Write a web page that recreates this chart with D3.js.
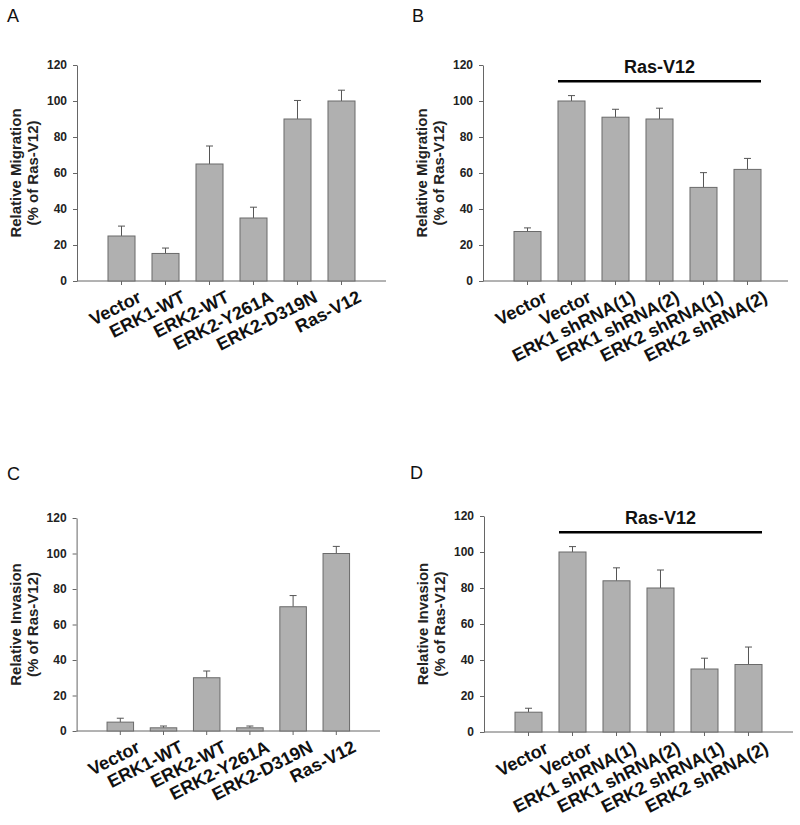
<!DOCTYPE html>
<html><head><meta charset="utf-8">
<script src="https://cdn.jsdelivr.net/npm/d3@7"></script>
<style>body{margin:0;background:#fff}svg{display:block}</style>
</head><body>
<script>
// ---- data ----
const catsAC = ["Vector","ERK1-WT","ERK2-WT","ERK2-Y261A","ERK2-D319N","Ras-V12"];
const catsBD = ["Vector","Vector","ERK1 shRNA(1)","ERK1 shRNA(2)","ERK2 shRNA(1)","ERK2 shRNA(2)"];
const valA = [25, 15.3, 65, 35, 90, 100];
const errA = [5.5, 3, 10, 6, 10.3, 6];
const valB = [27.5, 100, 91, 90, 52, 62];
const errB = [2, 3, 4.4, 6, 8.2, 6.1];
const valC = [5, 1.8, 30, 1.8, 70, 100];
const errC = [2.2, 1, 3.8, 1, 6.3, 4];
const valD = [11, 100, 84, 80, 35, 37.5];
const errD = [2.2, 3, 7.2, 10, 6, 9.7];
const yTicks = [0, 20, 40, 60, 80, 100, 120];
const groupLabel = "Ras-V12";
const groupLevel = 111;
const titleMig = ["Relative Migration", "(% of Ras-V12)"];
const titleInv = ["Relative Invasion", "(% of Ras-V12)"];

// ---- layout ----
const W = 800, H = 825;
const svg = d3.select("body").append("svg").attr("width", W).attr("height", H);
const FONT = "'Liberation Sans', Arial, Helvetica, sans-serif";

const panels = [
  {letter:"A", lx:7, ly:22, cats:catsAC, vals:valA, errs:errA, title:titleMig, xr:[77.2,385.8], axisEnd:386, y0:281, yTop:65, group:false},
  {letter:"B", lx:412, ly:22, cats:catsBD, vals:valB, errs:errB, title:titleMig, xr:[483.2,791.8], axisEnd:788, y0:281, yTop:65, group:true},
  {letter:"C", lx:7, ly:480, cats:catsAC, vals:valC, errs:errC, title:titleInv, xr:[76.8,379.8], axisEnd:380, y0:731, yTop:518, group:false},
  {letter:"D", lx:410, ly:479, cats:catsBD, vals:valD, errs:errD, title:titleInv, xr:[484.2,792.8], axisEnd:793, y0:732, yTop:516, group:true}
];

panels.forEach(p => {
  const g = svg.append("g");
  const axisX = p.xr[0] - 0.2;
  const x = d3.scaleBand().domain(d3.range(p.cats.length)).range(p.xr)
    .paddingInner(0.386).paddingOuter(0.7);
  const y = d3.scaleLinear().domain([0, 120]).range([p.y0, p.yTop]);

  // panel letter
  g.append("text").attr("x", p.lx).attr("y", p.ly).text(p.letter)
    .attr("font-family", FONT).attr("font-size", 18).attr("fill", "#111");

  // y axis
  const ya = g.append("g").attr("transform", `translate(${axisX},0)`)
    .call(d3.axisLeft(y).tickValues(yTicks).tickSize(4).tickPadding(6).tickSizeOuter(0));
  ya.select(".domain").attr("stroke", "#666");
  ya.selectAll(".tick line").attr("stroke", "#666");
  ya.selectAll(".tick text").attr("font-family", FONT).attr("font-weight", "bold")
    .attr("font-size", 12).attr("fill", "#222");

  // x axis line
  const xa = g.append("g").attr("transform", `translate(0,${p.y0})`);
  xa.append("line").attr("x1", axisX).attr("x2", p.axisEnd).attr("stroke", "#666");
  xa.selectAll("line.tk").data(p.cats.map((c,i)=>i)).join("line").attr("class","tk")
    .attr("x1", i => x(i) + x.bandwidth()/2).attr("x2", i => x(i) + x.bandwidth()/2)
    .attr("y1", 0).attr("y2", 4).attr("stroke", "#666");
  xa.selectAll("text").data(p.cats).join("text")
    .attr("transform", (c,i) => `translate(${x(i) + x.bandwidth()/2 + 21},20) rotate(-27)`)
    .attr("text-anchor", "end").attr("font-family", FONT).attr("font-weight", "bold")
    .attr("font-size", 18).attr("fill", "#111").text(c => c);

  // y title
  p.title.forEach((t, k) => {
    g.append("text")
      .attr("transform", `translate(${axisX - 56 + k*17},${(p.y0 + p.yTop)/2}) rotate(-90)`)
      .attr("text-anchor", "middle").attr("font-family", FONT).attr("font-weight", "bold")
      .attr("font-size", 15).attr("fill", "#222").text(t);
  });

  // error bars
  const eb = g.append("g");
  p.vals.forEach((v, i) => {
    const cx = x(i) + x.bandwidth()/2;
    const top = y(v + p.errs[i]);
    eb.append("line").attr("x1", cx).attr("x2", cx).attr("y1", y(v)).attr("y2", top)
      .attr("stroke", "#555").attr("stroke-width", 1);
    eb.append("line").attr("x1", cx - 3.5).attr("x2", cx + 3.5).attr("y1", top).attr("y2", top)
      .attr("stroke", "#555").attr("stroke-width", 1);
  });

  // bars
  g.selectAll("rect.bar").data(p.vals).join("rect").attr("class", "bar")
    .attr("x", (v,i) => x(i)).attr("width", x.bandwidth())
    .attr("y", v => y(v)).attr("height", v => p.y0 - y(v))
    .attr("fill", "#b0b0b0").attr("stroke", "#6a6a6a").attr("stroke-width", 1);

  // group bracket
  if (p.group) {
    const gx1 = x(1), gx2 = x(p.cats.length - 1) + x.bandwidth();
    g.append("line").attr("x1", gx1).attr("x2", gx2)
      .attr("y1", y(groupLevel)).attr("y2", y(groupLevel))
      .attr("stroke", "#000").attr("stroke-width", 2.5);
    g.append("text").attr("x", (gx1 + gx2)/2).attr("y", y(groupLevel + 4.5))
      .attr("text-anchor", "middle").attr("font-family", FONT).attr("font-weight", "bold")
      .attr("font-size", 18).attr("fill", "#111").text(groupLabel);
  }
});
</script>
</body></html>
